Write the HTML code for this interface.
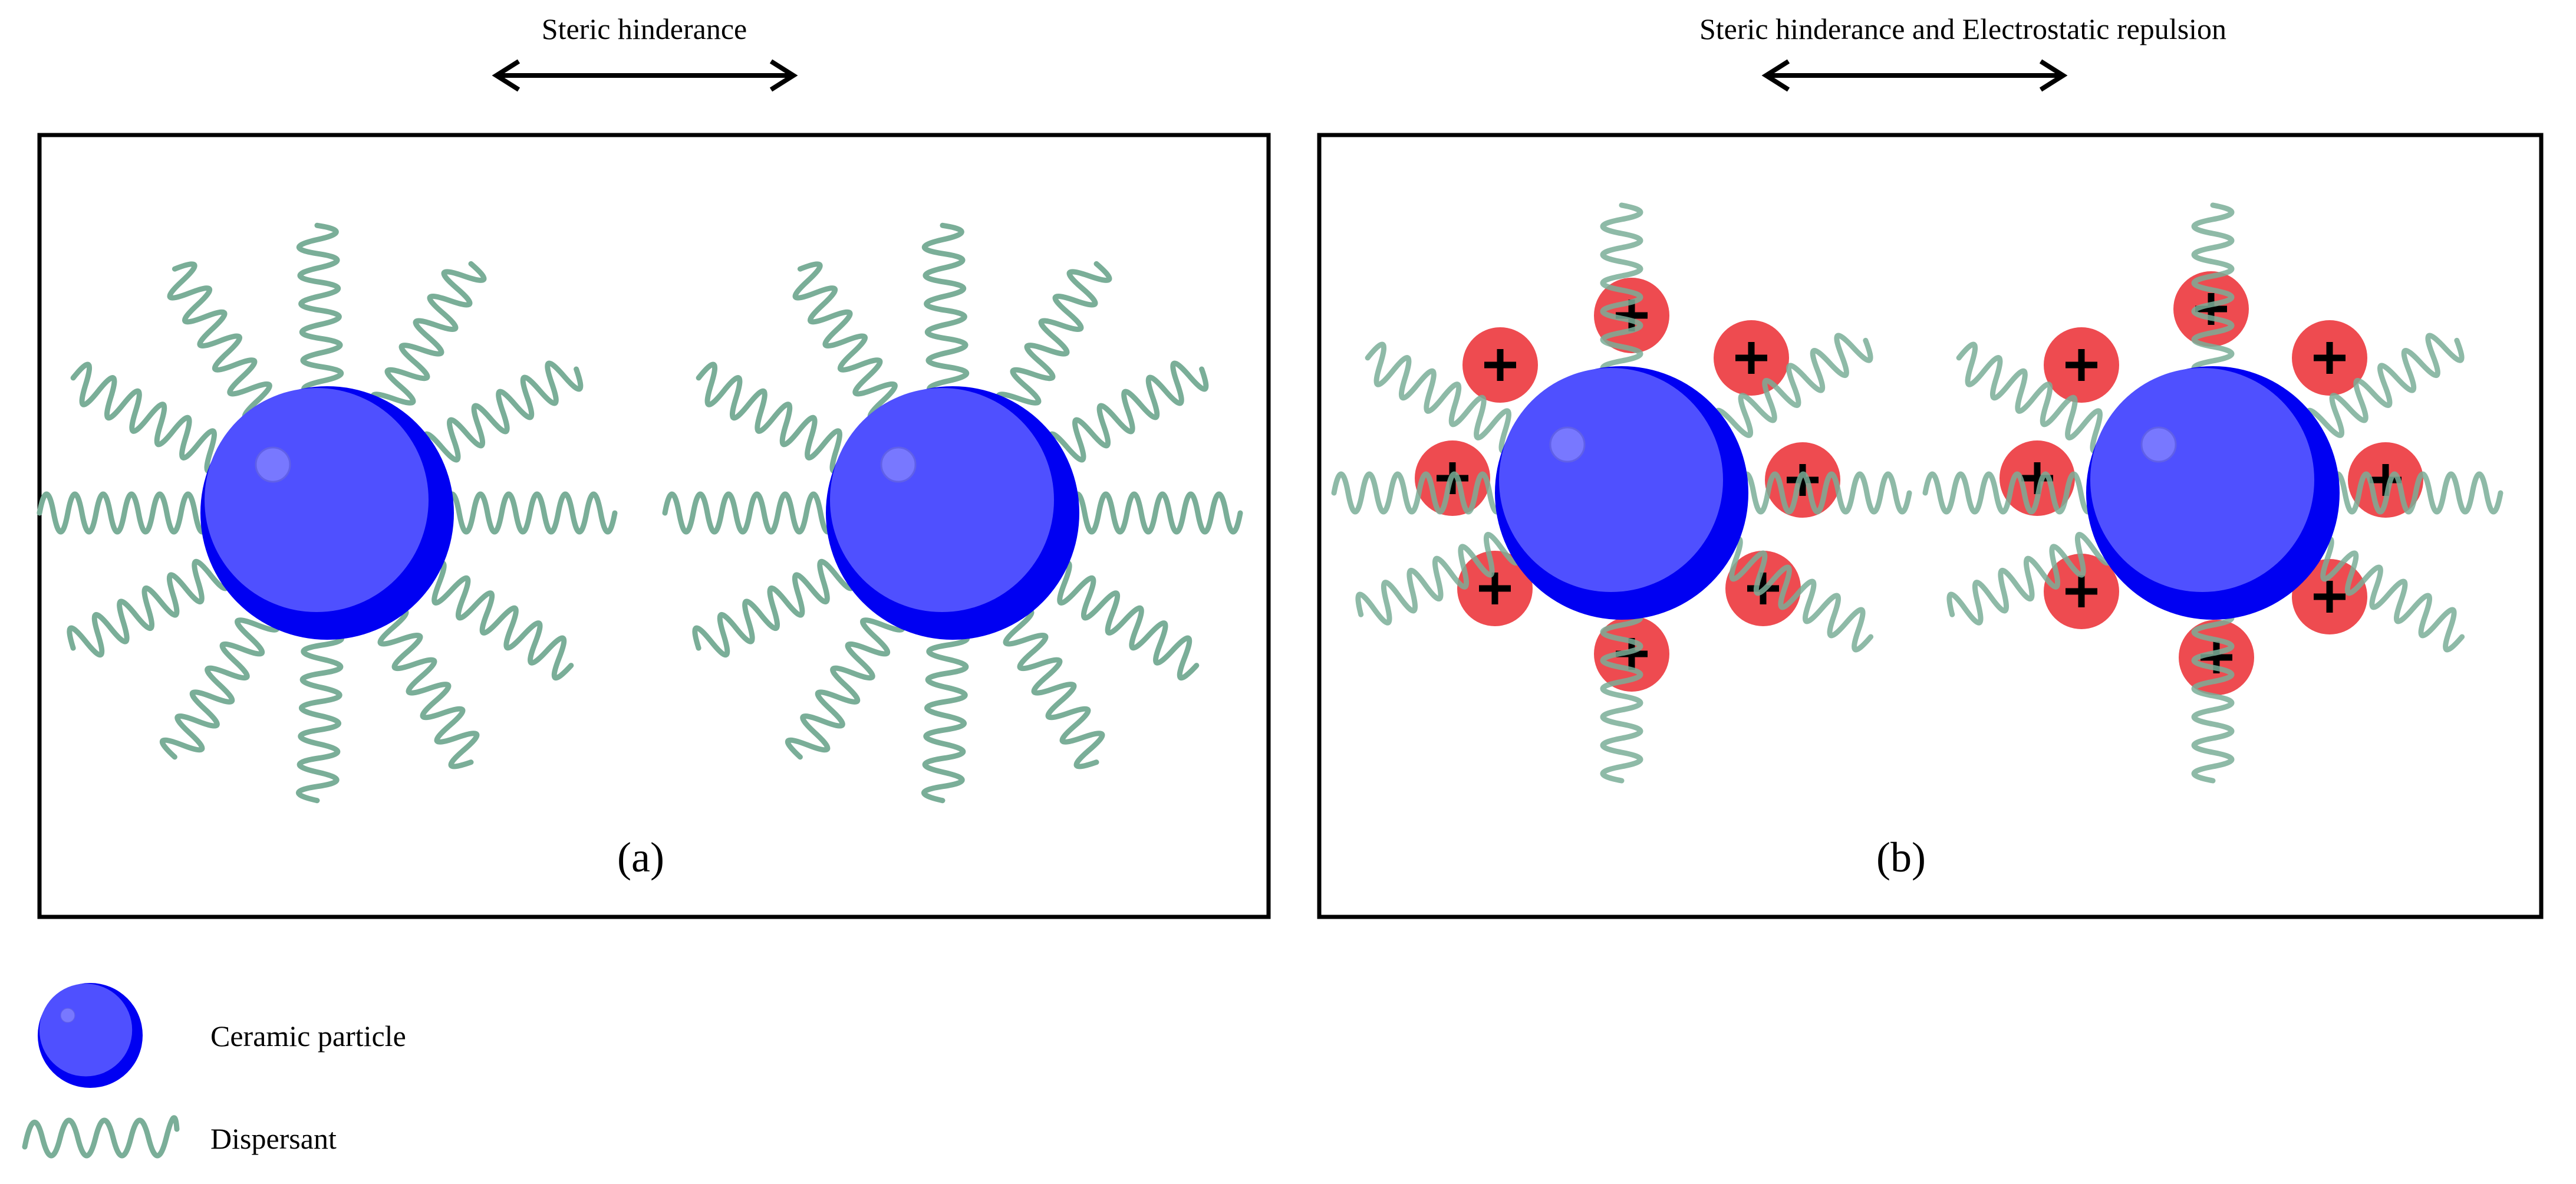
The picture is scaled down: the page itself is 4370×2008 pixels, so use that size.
<!DOCTYPE html>
<html><head><meta charset="utf-8"><style>
html,body{margin:0;padding:0;background:#fff;}
svg{display:block;}
text{font-family:"Liberation Serif",serif;fill:#000;}
</style></head><body>
<svg width="4370" height="2008" viewBox="0 0 4370 2008" xmlns="http://www.w3.org/2000/svg">
<defs>
<path id="w" d="M200 0 Q212 -64 224 0 T248 0 T272 0 T296 0 T320 0 T344 0 T368 0 T392 0 T416 0 T440 0 T464 0 T488 0" fill="none" stroke="#7aae98" stroke-width="9" stroke-linecap="round"/>
<g id="p">
<circle r="215" fill="#0000f2"/>
<circle cx="-18" cy="-22" r="190" fill="#4f50ff"/>
<circle cx="-92" cy="-82" r="29" fill="#7878ff" stroke="#6060e8" stroke-width="3"/>
</g>
<g id="plus"><circle r="64" fill="#ee4b50"/><path d="M-27 0H27M0 -27V27" stroke="#000" stroke-width="11"/></g>
</defs>

<text x="1093" y="66" font-size="50" text-anchor="middle">Steric hinderance</text>
<path d="M842 128H1346M880 104 L842 128 L880 152M1308 104 L1346 128 L1308 152" fill="none" stroke="#000" stroke-width="8"/>
<text x="3330" y="66" font-size="50" text-anchor="middle">Steric hinderance and Electrostatic repulsion</text>
<path d="M2996 128H3500M3034 104 L2996 128 L3034 152M3462 104 L3500 128 L3462 152" fill="none" stroke="#000" stroke-width="8"/>

<rect x="67" y="229" width="2085" height="1326" fill="none" stroke="#000" stroke-width="7"/>
<rect x="2238" y="229" width="2073" height="1326" fill="none" stroke="#000" stroke-width="7"/>

<g transform="translate(555 870)">
<use href="#w" transform="rotate(0)"/><use href="#w" transform="rotate(32)"/><use href="#w" transform="rotate(60)"/><use href="#w" transform="rotate(92)"/><use href="#w" transform="rotate(122)"/><use href="#w" transform="rotate(152)"/><use href="#w" transform="rotate(180)"/><use href="#w" transform="rotate(208)"/><use href="#w" transform="rotate(238)"/><use href="#w" transform="rotate(268)"/><use href="#w" transform="rotate(300)"/><use href="#w" transform="rotate(330)"/>
<use href="#p"/>
</g>
<g transform="translate(1616 870)">
<use href="#w" transform="rotate(0)"/><use href="#w" transform="rotate(32)"/><use href="#w" transform="rotate(60)"/><use href="#w" transform="rotate(92)"/><use href="#w" transform="rotate(122)"/><use href="#w" transform="rotate(152)"/><use href="#w" transform="rotate(180)"/><use href="#w" transform="rotate(208)"/><use href="#w" transform="rotate(238)"/><use href="#w" transform="rotate(268)"/><use href="#w" transform="rotate(300)"/><use href="#w" transform="rotate(330)"/>
<use href="#p"/>
</g>
<text x="1087" y="1478" font-size="72" text-anchor="middle">(a)</text>

<g transform="translate(2751 836)">
<use href="#plus" x="17" y="-301"/>
<use href="#plus" x="-206" y="-217"/>
<use href="#plus" x="220" y="-229"/>
<use href="#plus" x="-287" y="-25"/>
<use href="#plus" x="307" y="-22"/>
<use href="#plus" x="-215" y="162"/>
<use href="#plus" x="240" y="162"/>
<use href="#plus" x="17" y="273"/>
<g opacity="0.85">
<use href="#w" transform="rotate(-90)"/><use href="#w" transform="rotate(-152)"/><use href="#w" transform="rotate(-32)"/><use href="#w" transform="rotate(180)"/><use href="#w" transform="rotate(0)"/><use href="#w" transform="rotate(155)"/><use href="#w" transform="rotate(30)"/><use href="#w" transform="rotate(90)"/>
</g>
<use href="#p"/>
</g>
<g transform="translate(3754 836)">
<use href="#plus" x="-3" y="-312"/>
<use href="#plus" x="-223" y="-217"/>
<use href="#plus" x="198" y="-229"/>
<use href="#plus" x="-298" y="-25"/>
<use href="#plus" x="293" y="-22"/>
<use href="#plus" x="-223" y="167"/>
<use href="#plus" x="198" y="176"/>
<use href="#plus" x="6" y="279"/>
<g opacity="0.85">
<use href="#w" transform="rotate(-90)"/><use href="#w" transform="rotate(-152)"/><use href="#w" transform="rotate(-32)"/><use href="#w" transform="rotate(180)"/><use href="#w" transform="rotate(0)"/><use href="#w" transform="rotate(155)"/><use href="#w" transform="rotate(30)"/><use href="#w" transform="rotate(90)"/>
</g>
<use href="#p"/>
</g>
<text x="3225" y="1478" font-size="72" text-anchor="middle">(b)</text>

<g transform="translate(153 1756) scale(0.414)"><use href="#p"/></g>
<text x="357" y="1774" font-size="50">Ceramic particle</text>
<path d="M42 1945 Q57 1870 72 1930 T102 1930 T132 1930 T162 1930 T192 1930 T222 1930 T252 1930 T282 1930 T300 1915" fill="none" stroke="#7aae98" stroke-width="9" stroke-linecap="round"/>
<text x="357" y="1948" font-size="50">Dispersant</text>
</svg>
</body></html>
